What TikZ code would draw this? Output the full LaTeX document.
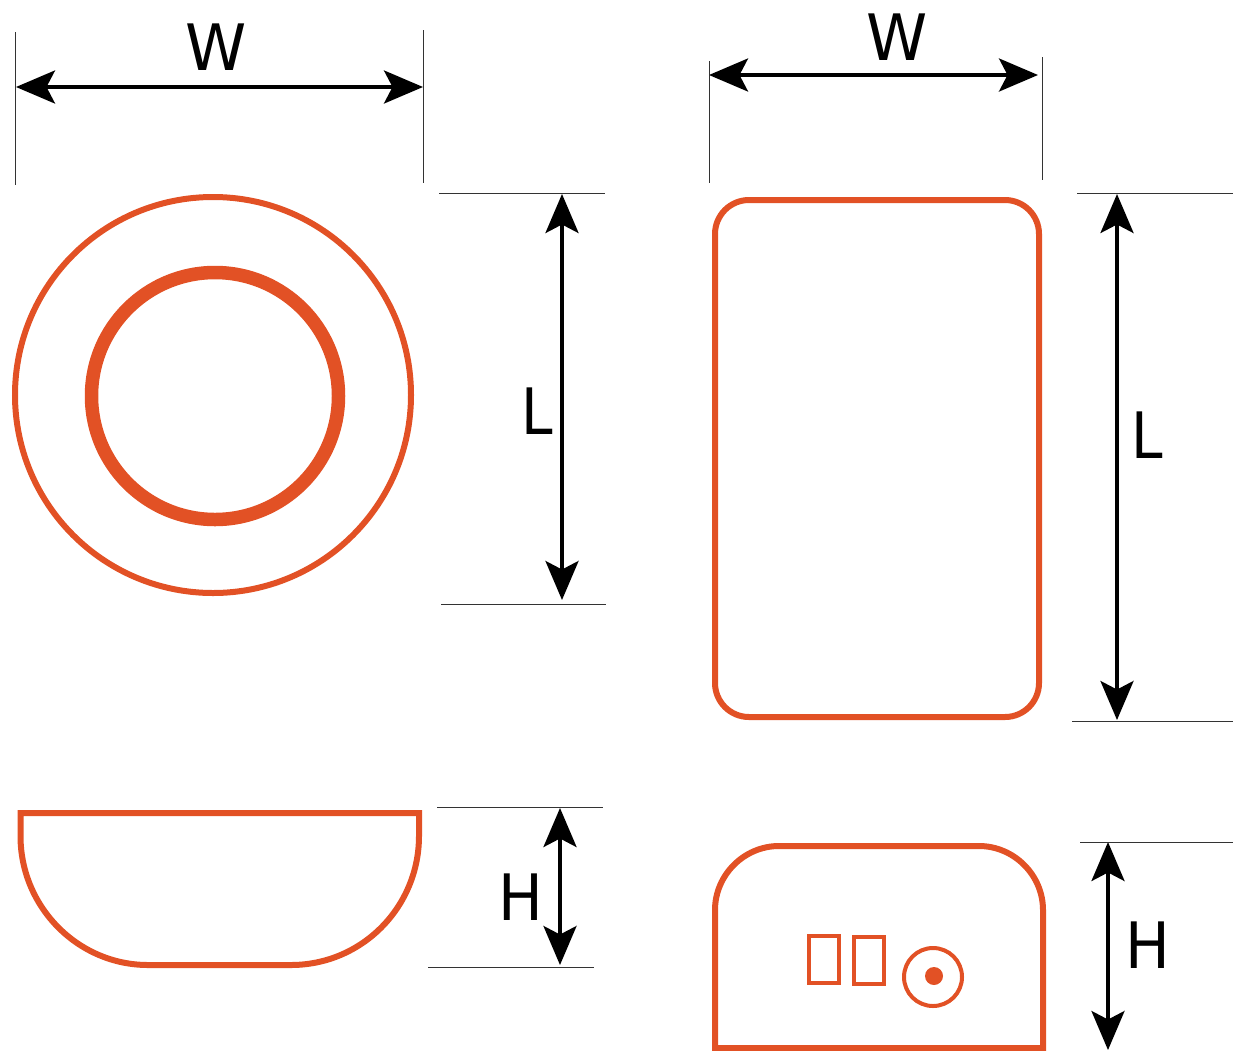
\documentclass[tikz,border=0pt]{standalone}
\usepackage{fontspec}
\setmainfont{DejaVu Sans}
\usetikzlibrary{arrows.meta}
\definecolor{rd}{HTML}{E25125}
\tikzset{
  dim/.style={line width=3.6pt,draw=black,{Stealth[length=39pt,width=33pt,inset=8.5pt]}-{Stealth[length=39pt,width=33pt,inset=8.5pt]}},
  ext/.style={line width=1pt,draw=black!80},
  outl/.style={line width=6pt,draw=rd},
  lbl/.style={font=\fontsize{64pt}{64pt}\selectfont,inner sep=0pt,text=black,xscale=.93,transform shape},
  lblw/.style={lbl,xscale=1.04},
  lbll/.style={lbl,xscale=.95}
}
\begin{document}
\begin{tikzpicture}[x=1pt,y=-1pt]
\useasboundingbox (0,0) rectangle (1233,1050);
% top-left
\draw[line width=6pt,draw=rd] (213,395) circle[radius=198];
\draw[line width=13.5pt,draw=rd] (215,396) circle[radius=123.5];
\coordinate (a1) at (16,87); \coordinate (a2) at (423,87);
\draw[dim] (a1) -- (a2);
\coordinate (b1) at (15.5,32); \coordinate (b2) at (15.5,185);
\draw[ext] (b1) -- (b2);
\coordinate (c1) at (423,30); \coordinate (c2) at (423,183);
\draw[ext] (c1) -- (c2);
\node[lblw] (w1) at (216,47) {W};
\coordinate (d1) at (562,194); \coordinate (d2) at (562,600);
\draw[dim] (d1) -- (d2);
\coordinate (e1) at (439,193.5); \coordinate (e2) at (605,193.5);
\draw[ext] (e1) -- (e2);
\coordinate (f1) at (441,604); \coordinate (f2) at (606,604);
\draw[ext] (f1) -- (f2);
\node[lbll] (l1) at (537,411) {L};
% top-right
\draw[outl,rounded corners=34pt] (715,200) rectangle (1039,717);
\coordinate (g1) at (709,75); \coordinate (g2) at (1038,75);
\draw[dim] (g1) -- (g2);
\coordinate (h1) at (709.5,61); \coordinate (h2) at (709.5,183);
\draw[ext] (h1) -- (h2);
\coordinate (i1) at (1042.5,57); \coordinate (i2) at (1042.5,180);
\draw[ext] (i1) -- (i2);
\node[lblw] (w2) at (897,37) {W};
\coordinate (j1) at (1117,194); \coordinate (j2) at (1117,720);
\draw[dim] (j1) -- (j2);
\coordinate (k1) at (1077,193); \coordinate (k2) at (1233,193);
\draw[ext] (k1) -- (k2);
\coordinate (m1) at (1072,721); \coordinate (m2) at (1233,721);
\draw[ext] (m1) -- (m2);
\node[lbll] (l2) at (1147,435) {L};
% bottom-left
\draw[outl] (20.5,813) -- (419,813) -- (419,836)
  .. controls (419,907) and (362,965) .. (291,965) -- (148,965)
  .. controls (78,965) and (20.5,907) .. (20.5,836) -- cycle;
\coordinate (n1) at (560,808); \coordinate (n2) at (560,965);
\draw[dim] (n1) -- (n2);
\coordinate (o1) at (437,807); \coordinate (o2) at (603,807);
\draw[ext] (o1) -- (o2);
\coordinate (p1) at (428,967); \coordinate (p2) at (594,967);
\draw[ext] (p1) -- (p2);
\node[lbl] (h3) at (521,897) {H};
% bottom-right
\draw[outl] (715,1048) -- (715,910)
  .. controls (715,875) and (744,846) .. (779,846) -- (979,846)
  .. controls (1014,846) and (1043,875) .. (1043,910) -- (1043,1048) -- cycle;
\coordinate (q1) at (1108,842); \coordinate (q2) at (1108,1050);
\draw[dim] (q1) -- (q2);
\coordinate (r1) at (1080,842); \coordinate (r2) at (1233,842);
\draw[ext] (r1) -- (r2);
\node[lbl] (h4) at (1148,945) {H};
\draw[line width=4pt,draw=rd] (808.5,935.5) rectangle (838.5,982.5);
\draw[line width=4pt,draw=rd] (853.5,936.5) rectangle (883.5,983.5);
\draw[line width=4pt,draw=rd] (933,977) circle[radius=29];
\fill[rd] (934,976) circle[radius=9];
\end{tikzpicture}
\end{document}
